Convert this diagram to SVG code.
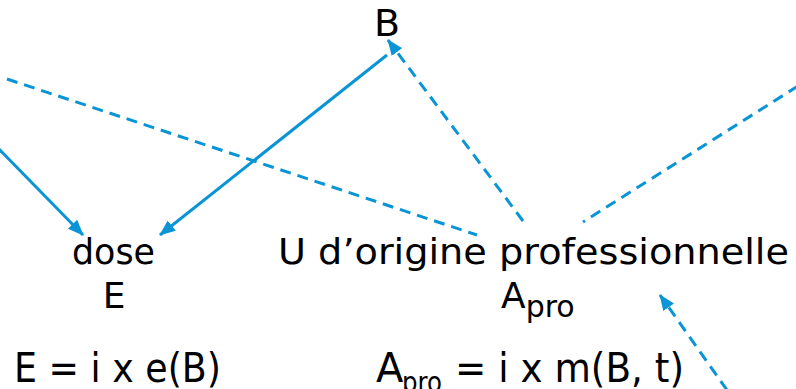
<svg xmlns="http://www.w3.org/2000/svg" width="796" height="389" viewBox="0 0 796 389">
  <style>
    .t { font-family: "DejaVu Sans", "Liberation Sans", sans-serif; fill: #000; }
    .lbl { font-size: 36px; }
    .frm { font-size: 40px; }
    .solid { stroke: #0994d6; stroke-width: 3; fill: none; }
    .dash { stroke: #0994d6; stroke-width: 3; fill: none; stroke-dasharray: 11 7; }
  </style>
  <defs>
    <marker id="arrow" viewBox="0 0 16 13" refX="15" refY="6.5" markerWidth="16" markerHeight="13" markerUnits="userSpaceOnUse" orient="auto">
      <path d="M0,0 L16,6.5 L0,13 Z" fill="#0994d6"/>
    </marker>
  </defs>
  <rect width="796" height="389" fill="#fff"/>

  <g id="connectors">
    <line class="solid" x1="-2" y1="148" x2="83" y2="235" marker-end="url(#arrow)"/>
    <line class="solid" x1="387" y1="55" x2="160" y2="235" marker-end="url(#arrow)"/>
    <line class="dash" x1="7" y1="79" x2="477" y2="235"/>
    <line class="dash" x1="523" y1="221" x2="388" y2="40" marker-end="url(#arrow)"/>
    <line class="dash" x1="798" y1="86" x2="583" y2="222"/>
    <line class="dash" x1="727" y1="390" x2="660" y2="295" marker-end="url(#arrow)"/>
  </g>

  <g id="node-B">
    <text class="t" x="387" y="36" font-size="38" text-anchor="middle">B</text>
  </g>

  <g id="node-dose">
    <text class="t lbl" x="72" y="264" textLength="83" lengthAdjust="spacingAndGlyphs">dose</text>
    <text class="t lbl" x="114" y="308" text-anchor="middle">E</text>
  </g>

  <g id="node-U">
    <text class="t lbl" x="278" y="264" textLength="511" lengthAdjust="spacingAndGlyphs">U d’origine professionnelle</text>
    <text class="t lbl" x="501" y="308">A<tspan font-size="30" dy="9">pro</tspan></text>
  </g>

  <g id="formula-E">
    <text class="t frm" x="14" y="382" textLength="207" lengthAdjust="spacingAndGlyphs">E = i x e(B)</text>
  </g>

  <g id="formula-A">
    <text class="t frm" x="376" y="382">A<tspan x="402" font-size="28" dy="10" textLength="40" lengthAdjust="spacingAndGlyphs">pro</tspan><tspan x="455" dy="-10" textLength="229" lengthAdjust="spacingAndGlyphs">= i x m(B, t)</tspan></text>
  </g>
</svg>
